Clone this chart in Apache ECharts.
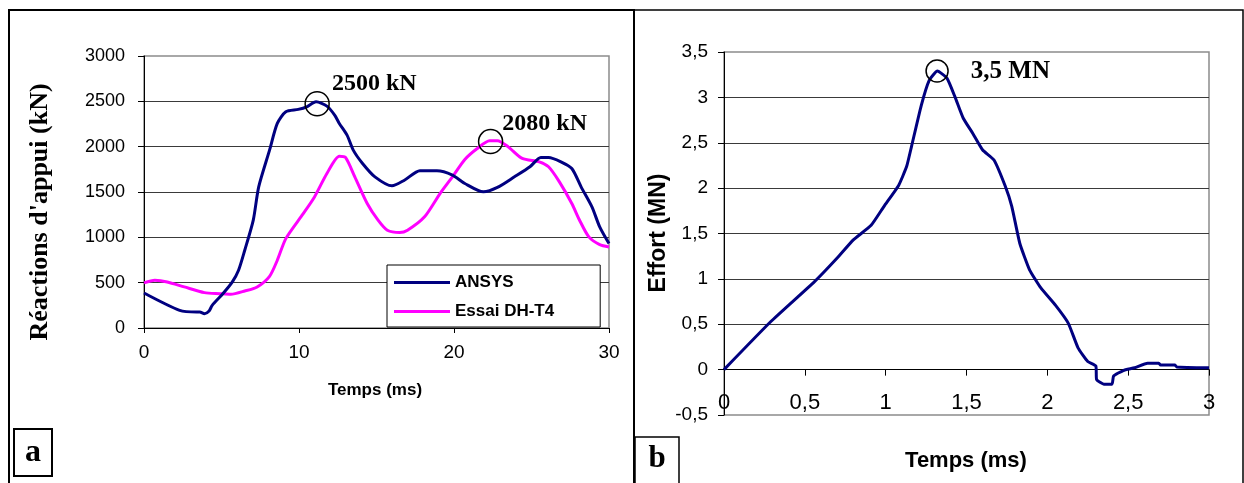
<!DOCTYPE html>
<html>
<head>
<meta charset="utf-8">
<script src="https://cdn.jsdelivr.net/npm/echarts@6/dist/echarts.min.js"></script>
<style>
html,body{margin:0;padding:0;background:#fff;}
#c{width:1244px;height:483px;}
</style>
</head>
<body>
<div id="c"></div>
<script>
// ---- Data ----
// Panel a: support reactions (kN) vs time (ms)
const ansysT = [0, 2.3, 3.4, 3.6, 3.9, 4.2, 4.4, 5.1, 5.7, 6.1, 6.5, 7.05, 7.4, 8.1, 8.6, 9.15, 9.95, 10.5, 11.1, 11.8, 12.3, 12.6, 13.1, 13.5, 14.1, 14.9, 16.0, 16.8, 17.8, 18.9, 19.9, 20.7, 21.9, 22.8, 23.9, 24.9, 25.6, 26.1, 26.9, 27.6, 28.2, 28.9, 29.4, 30];
const ansysV = [386, 195, 177, 177, 158, 188, 250, 380, 508, 637, 858, 1190, 1557, 1962, 2256, 2385, 2411, 2440, 2495, 2447, 2348, 2256, 2127, 1962, 1815, 1667, 1568, 1630, 1734, 1734, 1686, 1594, 1502, 1550, 1667, 1778, 1881, 1881, 1833, 1759, 1557, 1336, 1115, 931];
const essaiT = [0, 0.7, 1.5, 2.6, 3.9, 4.9, 5.6, 6.5, 7.3, 8.1, 8.6, 9.15, 10.2, 11.0, 11.8, 12.6, 13.0, 13.6, 14.4, 15.1, 15.7, 16.5, 17.0, 18.1, 19.1, 19.9, 20.7, 21.5, 22.3, 22.8, 23.5, 24.4, 25.5, 26.1, 26.8, 27.6, 28.1, 28.7, 29.4, 30];
const essaiV = [497, 526, 508, 453, 390, 379, 372, 408, 453, 570, 747, 986, 1244, 1446, 1704, 1895, 1881, 1667, 1373, 1189, 1078, 1053, 1078, 1226, 1483, 1667, 1859, 1980, 2065, 2065, 1998, 1870, 1833, 1778, 1612, 1373, 1189, 1005, 920, 894];
const peakAT = [11.17, 22.36];
const peakAV = [2474, 2056];
const peakALabels = ['2500 kN', '2080 kN'];

// Panel b: effort (MN) vs time (ms)
const effortT = [0, 0.29, 0.56, 0.70, 0.80, 0.91, 0.99, 1.08, 1.13, 1.16, 1.22, 1.27, 1.32, 1.38, 1.43, 1.48, 1.54, 1.60, 1.67, 1.74, 1.78, 1.83, 1.89, 1.96, 2.05, 2.13, 2.19, 2.25, 2.30, 2.305, 2.35, 2.40, 2.41, 2.47, 2.54, 2.62, 2.69, 2.70, 2.79, 2.80, 3.0];
const effortV = [0, 0.53, 0.97, 1.23, 1.43, 1.59, 1.80, 2.03, 2.24, 2.46, 2.91, 3.19, 3.29, 3.21, 3.00, 2.77, 2.60, 2.42, 2.31, 2.02, 1.80, 1.39, 1.10, 0.90, 0.71, 0.51, 0.24, 0.09, 0.04, -0.11, -0.16, -0.16, -0.07, -0.01, 0.02, 0.07, 0.07, 0.05, 0.05, 0.03, 0.02];
const peakBT = [1.318];
const peakBV = [3.29];
const peakBLabels = ['3,5 MN'];

// Axis ticks
const aXTicks = {min: 0, max: 30, interval: 10};
const aYTicks = {min: 0, max: 3000, interval: 500};
const bXTicks = {min: 0, max: 3, interval: 0.5};
const bYTicks = {min: -0.5, max: 3.5, interval: 0.5};

const seriesNames = ['ANSYS', 'Essai DH-T4'];

// ---- Build ----
const zip = (a, b) => a.map((v, i) => [v, b[i]]);
const comma = v => String(v).replace('.', ',');
const plain = v => String(v);
const SANS = '"Liberation Sans", Arial, sans-serif';
const SERIF = '"Liberation Serif", "Times New Roman", serif';

const chart = echarts.init(document.getElementById('c'), null, {renderer: 'canvas'});

chart.setOption({
  animation: false,
  backgroundColor: '#fff',
  grid: [
    {left: 144, right: 1244 - 609, top: 56, bottom: 483 - 328, show: true, borderColor: '#8c8c8c', borderWidth: 1.5, backgroundColor: '#fff'},
    {left: 724, right: 1244 - 1209, top: 52, bottom: 483 - 415, show: true, borderColor: '#8c8c8c', borderWidth: 1.5, backgroundColor: '#fff'}
  ],
  legend: {
    data: seriesNames,
    orient: 'vertical',
    left: 387, top: 265,
    icon: 'rect',
    itemWidth: 56, itemHeight: 3,
    itemGap: 12,
    padding: [9, 46, 7, 7],
    backgroundColor: '#fff',
    borderColor: '#000', borderWidth: 1,
    textStyle: {fontFamily: SANS, fontWeight: 'bold', fontSize: 17, color: '#000'}
  },
  xAxis: [
    {type: 'value', gridIndex: 0, min: aXTicks.min, max: aXTicks.max, interval: aXTicks.interval,
     axisLine: {show: true, onZero: true, lineStyle: {color: '#000', width: 1}},
     axisTick: {show: true, length: 5, lineStyle: {color: '#000'}},
     splitLine: {show: false},
     axisLabel: {fontFamily: SANS, fontSize: 19, color: '#000', margin: 15, formatter: plain}},
    {type: 'value', gridIndex: 1, min: bXTicks.min, max: bXTicks.max, interval: bXTicks.interval,
     axisLine: {show: true, onZero: true, onZeroAxisIndex: 1, lineStyle: {color: '#000', width: 1}},
     axisTick: {show: true, length: 6, lineStyle: {color: '#000'}},
     splitLine: {show: false},
     axisLabel: {fontFamily: SANS, fontSize: 22, color: '#000', margin: -23, formatter: comma}}
  ],
  yAxis: [
    {type: 'value', gridIndex: 0, min: aYTicks.min, max: aYTicks.max, interval: aYTicks.interval,
     axisLine: {show: true, onZero: false, lineStyle: {color: '#000', width: 1}},
     axisTick: {show: true, length: 6, lineStyle: {color: '#000'}},
     splitLine: {show: true, showMaxLine: false, lineStyle: {color: '#3a3a3a', width: 1}},
     axisLabel: {fontFamily: SANS, fontSize: 18, color: '#000', margin: 19, formatter: plain}},
    {type: 'value', gridIndex: 1, min: bYTicks.min, max: bYTicks.max, interval: bYTicks.interval,
     axisLine: {show: true, onZero: false, lineStyle: {color: '#000', width: 1}},
     axisTick: {show: true, length: 6, lineStyle: {color: '#000'}},
     splitLine: {show: true, showMaxLine: false, showMinLine: false, lineStyle: {color: '#3a3a3a', width: 1}},
     axisLabel: {fontFamily: SANS, fontSize: 19, color: '#000', margin: 16, formatter: comma}}
  ],
  series: [
    {name: seriesNames[0], type: 'line', xAxisIndex: 0, yAxisIndex: 0, data: zip(ansysT, ansysV),
     showSymbol: false, smooth: 0.25, lineStyle: {color: '#000080', width: 3}, itemStyle: {color: '#000080'}, z: 3},
    {name: seriesNames[1], type: 'line', xAxisIndex: 0, yAxisIndex: 0, data: zip(essaiT, essaiV),
     showSymbol: false, smooth: 0.25, lineStyle: {color: '#ff00ff', width: 3}, itemStyle: {color: '#ff00ff'}, z: 2},
    {name: 'peaksA', type: 'scatter', xAxisIndex: 0, yAxisIndex: 0, data: zip(peakAT, peakAV),
     symbol: 'circle', symbolSize: 24, z: 5,
     itemStyle: {color: 'rgba(0,0,0,0)', borderColor: '#000', borderWidth: 1.5, opacity: 1},
     label: {show: true, position: 'right',
       formatter: p => peakALabels[p.dataIndex],
       fontFamily: SERIF, fontWeight: 'bold', fontSize: 24, color: '#000'},
     labelLayout: p => ({dy: p.dataIndex === 0 ? -20 : -18, dx: p.dataIndex === 0 ? -3 : -6})},
    {name: 'effort', type: 'line', xAxisIndex: 1, yAxisIndex: 1, data: zip(effortT, effortV),
     showSymbol: false, smooth: 0.15, lineStyle: {color: '#000080', width: 3}, itemStyle: {color: '#000080'}, z: 3},
    {name: 'peakB', type: 'scatter', xAxisIndex: 1, yAxisIndex: 1, data: zip(peakBT, peakBV),
     symbol: 'circle', symbolSize: 22, z: 5,
     itemStyle: {color: 'rgba(0,0,0,0)', borderColor: '#000', borderWidth: 1.5, opacity: 1},
     label: {show: true, position: 'right', distance: 22,
       formatter: p => peakBLabels[p.dataIndex],
       fontFamily: SERIF, fontWeight: 'bold', fontSize: 25, color: '#000'}}
  ],
  graphic: [
    // panel frames
    {type: 'rect', shape: {x: 9, y: 10, width: 625, height: 490}, style: {fill: 'none', stroke: '#000', lineWidth: 2}, z: 0},
    {type: 'rect', shape: {x: 634, y: 10, width: 609, height: 490}, style: {fill: 'none', stroke: '#000', lineWidth: 1.5}, z: 0},
    // panel tags
    {type: 'rect', shape: {x: 14, y: 429, width: 38, height: 47}, style: {fill: '#fff', stroke: '#000', lineWidth: 2}},
    {type: 'text', x: 33, y: 453, style: {text: 'a', fontFamily: SERIF, fontWeight: 'bold', fontSize: 32, fill: '#000', align: 'center', verticalAlign: 'middle'}},
    {type: 'rect', shape: {x: 635, y: 437, width: 44, height: 50}, style: {fill: '#fff', stroke: '#000', lineWidth: 1.5}},
    {type: 'text', x: 657, y: 459, style: {text: 'b', fontFamily: SERIF, fontWeight: 'bold', fontSize: 31, fill: '#000', align: 'center', verticalAlign: 'middle'}},
    // axis titles
    {type: 'text', x: 40, y: 212, rotation: Math.PI / 2, style: {text: "Réactions d'appui (kN)", fontFamily: SERIF, fontWeight: 'bold', fontSize: 26, fill: '#000', align: 'center', verticalAlign: 'middle'}},
    {type: 'text', x: 375, y: 390, style: {text: 'Temps (ms)', fontFamily: SANS, fontWeight: 'bold', fontSize: 17, fill: '#000', align: 'center', verticalAlign: 'middle'}},
    {type: 'text', x: 659, y: 233, rotation: Math.PI / 2, style: {text: 'Effort (MN)', fontFamily: SANS, fontWeight: 'bold', fontSize: 23, fill: '#000', align: 'center', verticalAlign: 'middle'}},
    {type: 'text', x: 966, y: 461, style: {text: 'Temps (ms)', fontFamily: SANS, fontWeight: 'bold', fontSize: 22, fill: '#000', align: 'center', verticalAlign: 'middle'}}
  ]
});
</script>
</body>
</html>
